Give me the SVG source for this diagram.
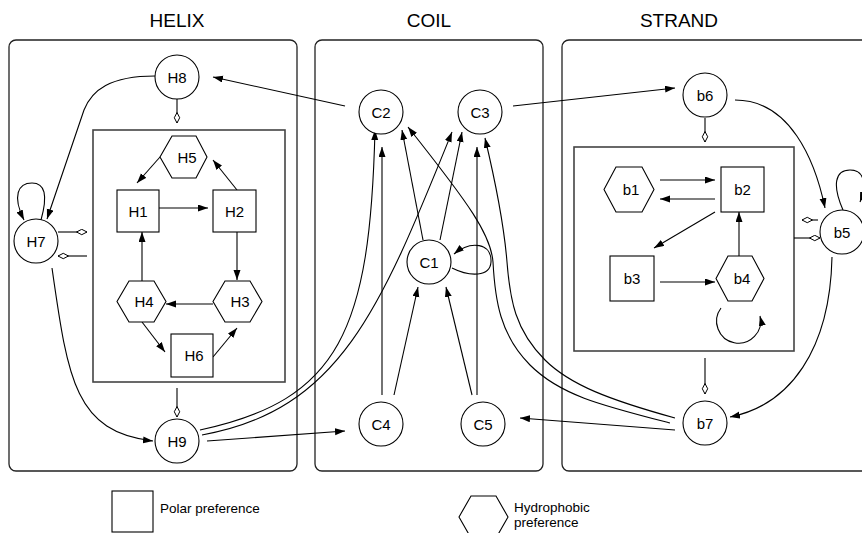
<svg xmlns="http://www.w3.org/2000/svg" width="862" height="533" viewBox="0 0 862 533">
<style>
.t{font-family:"Liberation Sans",Arial,sans-serif;fill:#000}
.title{font-size:19px;text-anchor:middle}
.lbl{font-size:15px;text-anchor:middle;dominant-baseline:central}
.leg{font-size:13.5px}
.box{fill:none;stroke:#222;stroke-width:1.3}
.inner{fill:none;stroke:#444;stroke-width:1.6}
.n{fill:#fff;stroke:#000;stroke-width:1.1}
.e{fill:none;stroke:#000;stroke-width:1.1;marker-end:url(#arr)}
.d{fill:none;stroke:#000;stroke-width:1.1;marker-end:url(#dia)}
</style>
<defs>
<marker id="arr" markerUnits="userSpaceOnUse" markerWidth="11" markerHeight="8" refX="10" refY="3.5" orient="auto"><path d="M0,0 L10,3.5 L0,7 z" fill="#000"/></marker>
<marker id="dia" markerUnits="userSpaceOnUse" markerWidth="13" markerHeight="8" refX="11" refY="3.5" orient="auto"><path d="M0.5,3.5 L5.75,0.8 L11,3.5 L5.75,6.2 z" fill="#fff" stroke="#000" stroke-width="1"/></marker>
</defs>
<rect width="862" height="533" fill="#fff"/>
<text class="t title" x="177" y="27">HELIX</text>
<text class="t title" x="429" y="27">COIL</text>
<text class="t title" x="679" y="27">STRAND</text>
<g id="helix-box"><rect class="box" x="9" y="40" width="288" height="431" rx="7"/><rect class="inner" x="93" y="130" width="192" height="252"/></g>
<g id="coil-box"><rect class="box" x="315" y="40" width="228" height="431" rx="7"/></g>
<g id="strand-box"><rect class="box" x="562" y="40" width="310" height="431" rx="7"/><rect class="inner" x="574" y="147" width="220" height="204"/></g>
<g id="connectors">
<path class="e" d="M155,76 C110,76 92,90 84,110 L47,219"/>
<path class="e" d="M41,220 C48,195 45,183 32,183 C18,183 12,196 24,220"/>
<path class="d" d="M58,232 L87,232"/>
<path class="d" d="M87,256 L58,256"/>
<path class="d" d="M177,99 L177,123"/>
<path class="d" d="M177,388 L177,417"/>
<path class="e" d="M52,268 C68,380 75,432 153,441"/>
<path class="e" d="M160,157 L137,183"/>
<path class="e" d="M159,208 L208,208"/>
<path class="e" d="M237,190 L213,160"/>
<path class="e" d="M237,232 L237,280"/>
<path class="e" d="M213,304 L166,304"/>
<path class="e" d="M142,281 L142,232"/>
<path class="e" d="M142,322 L165,352"/>
<path class="e" d="M213,357 L237,328"/>
<path class="e" d="M345,106 L213,77"/>
<path class="e" d="M513,106 L675,88"/>
<path class="e" d="M207,441 L345,431"/>
<path class="e" d="M200,430 C340,400 370,330 375,130"/>
<path class="e" d="M202,435 C340,410 380,310 452,132"/>
<path class="e" d="M382,395 L382,147"/>
<path class="e" d="M394,395 L418,287"/>
<path class="e" d="M472,395 L446,287"/>
<path class="e" d="M477,395 L477,147"/>
<path class="e" d="M423,240 L402,130"/>
<path class="e" d="M440,240 L462,132"/>
<path class="e" d="M452,268 C470,277 490,277 491,262 C492,243 471,240 454,254"/>
<path class="e" d="M675,430 L520,418"/>
<path class="e" d="M670,423 C600,405 560,395 530,365 C500,335 495,300 493,262 C491,235 470,205 408,127"/>
<path class="e" d="M675,418 C610,400 570,385 545,360 C515,330 510,300 507,262 C504,225 495,180 485,138"/>
<path class="d" d="M705,118 L705,142"/>
<path class="d" d="M705,358 L705,394"/>
<path class="e" d="M735,100 C790,100 815,160 825,208"/>
<path class="e" d="M832,257 C830,350 790,405 730,417"/>
<path class="e" d="M843,210 C832,185 835,170 850,170 C862,170 868,180 860,202"/>
<path class="d" d="M818,220 L802,220"/>
<path class="d" d="M794,238 L820,238"/>
<path class="e" d="M660,180 L715,180"/>
<path class="e" d="M715,199 L660,199"/>
<path class="e" d="M715,212 L654,248"/>
<path class="e" d="M660,282 L715,282"/>
<path class="e" d="M739,256 L739,212"/>
<path class="e" d="M721,308 A22,22 0 1 0 760,316"/>
</g>
<g id="H8"><circle class="n" cx="177" cy="77" r="22"/><text class="t lbl" x="177" y="77">H8</text></g>
<g id="H7"><circle class="n" cx="36" cy="241" r="22"/><text class="t lbl" x="36" y="241">H7</text></g>
<g id="H9"><circle class="n" cx="177" cy="441" r="22"/><text class="t lbl" x="177" y="441">H9</text></g>
<g id="H5"><polygon class="n" points="160,157 172,136 196,136 207,157 196,178 172,178"/><text class="t lbl" x="187" y="157">H5</text></g>
<g id="H1"><rect class="n" x="117" y="190" width="42" height="42"/><text class="t lbl" x="138" y="211">H1</text></g>
<g id="H2"><rect class="n" x="213" y="190" width="43" height="42"/><text class="t lbl" x="234.5" y="211">H2</text></g>
<g id="H4"><polygon class="n" points="117,301.5 129,281 154,281 166,301.5 154,322 129,322"/><text class="t lbl" x="144" y="301.5">H4</text></g>
<g id="H3"><polygon class="n" points="213,301.5 225,281 250,281 262,301.5 250,322 225,322"/><text class="t lbl" x="240" y="301.5">H3</text></g>
<g id="H6"><rect class="n" x="171" y="334" width="42" height="43"/><text class="t lbl" x="194" y="355.5">H6</text></g>
<g id="C2"><circle class="n" cx="381" cy="112" r="22"/><text class="t lbl" x="381" y="112">C2</text></g>
<g id="C3"><circle class="n" cx="480" cy="112" r="22"/><text class="t lbl" x="480" y="112">C3</text></g>
<g id="C1"><circle class="n" cx="429" cy="262" r="22"/><text class="t lbl" x="429" y="262">C1</text></g>
<g id="C4"><circle class="n" cx="381" cy="424" r="22"/><text class="t lbl" x="381" y="424">C4</text></g>
<g id="C5"><circle class="n" cx="483" cy="424" r="22"/><text class="t lbl" x="483" y="424">C5</text></g>
<g id="b6"><circle class="n" cx="705" cy="95" r="22"/><text class="t lbl" x="705" y="95">b6</text></g>
<g id="b5"><circle class="n" cx="842" cy="232" r="22"/><text class="t lbl" x="842" y="232">b5</text></g>
<g id="b7"><circle class="n" cx="705" cy="423" r="22"/><text class="t lbl" x="705" y="423">b7</text></g>
<g id="b1"><polygon class="n" points="604,189.5 616,167 642,167 654,189.5 642,212 616,212"/><text class="t lbl" x="631" y="189.5">b1</text></g>
<g id="b2"><rect class="n" x="721" y="167" width="43" height="45"/><text class="t lbl" x="742.5" y="189.5">b2</text></g>
<g id="b3"><rect class="n" x="610" y="256" width="44" height="45"/><text class="t lbl" x="632" y="278.5">b3</text></g>
<g id="b4"><polygon class="n" points="716,278.5 728,256 752,256 764,278.5 752,301 728,301"/><text class="t lbl" x="742" y="278.5">b4</text></g>
<g id="legend">
<rect class="n" x="112" y="491" width="41" height="41"/>
<text class="t leg" x="160" y="513">Polar preference</text>
<polygon class="n" points="459,517 471,496 496,496 508,517 496,538 471,538"/>
<text class="t leg" x="514" y="512">Hydrophobic</text>
<text class="t leg" x="514" y="527">preference</text>
</g>
</svg>
